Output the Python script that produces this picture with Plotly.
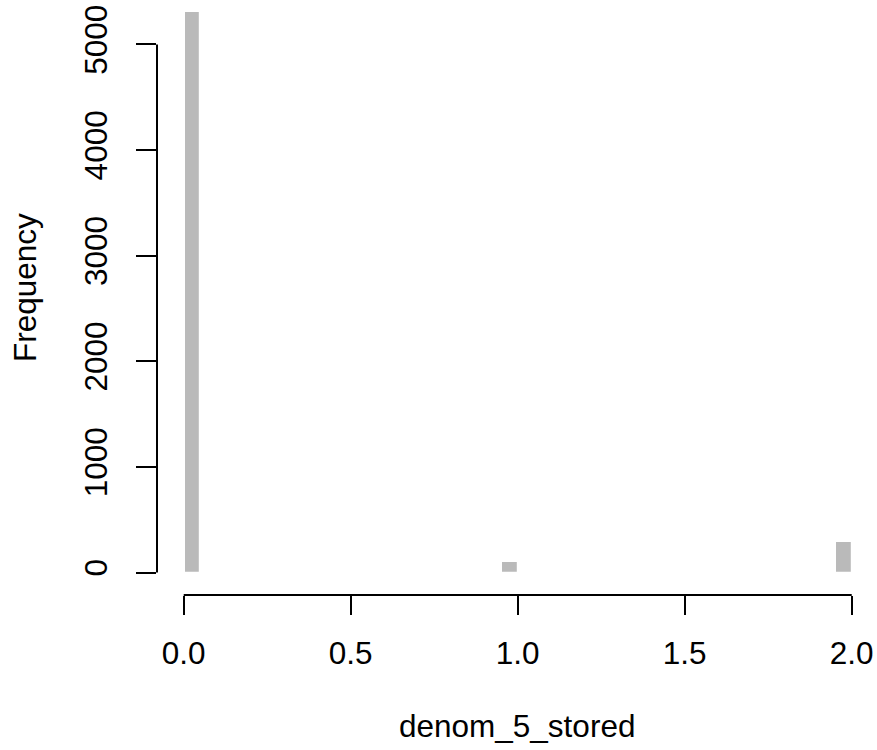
import plotly.graph_objects as go

# Histogram of denom_5_stored (bin width 0.05, only non-empty bins)
bin_left = [0.00, 0.95, 1.95]
bin_width = 0.05
counts = [5317, 107, 294]

x_ticks = [0, 0.5, 1.0, 1.5, 2.0]
x_ticktext = ["0.0", "0.5", "1.0", "1.5", "2.0"]
y_ticks = [0, 1000, 2000, 3000, 4000, 5000]
y_ticktext = ["0", "1000", "2000", "3000", "4000", "5000"]

FONT = "Liberation Sans, Arial, sans-serif"
FS = 31.5

centers = [b + bin_width / 2 for b in bin_left]

fig = go.Figure()
fig.add_trace(go.Bar(
    x=centers, y=counts, width=[bin_width] * len(counts),
    marker=dict(color="#BABABA", line=dict(color="white", width=2.2)),
    hoverinfo="x+y",
))

fig.update_layout(
    width=877, height=750,
    margin=dict(l=157, r=0, t=0, b=155, pad=0),
    paper_bgcolor="white", plot_bgcolor="white",
    showlegend=False,
    font=dict(family=FONT, size=FS, color="black"),
    bargap=0,
)
fig.update_xaxes(
    range=[-0.08, -0.08 + 720 / 334], showgrid=False, zeroline=False, showline=False,
    tickmode="array", tickvals=x_ticks, ticktext=x_ticktext,
    ticks="outside", ticklen=19, tickwidth=2, tickcolor="black",
    tickfont=dict(family=FONT, size=FS, color="black"),
    ticklabelstandoff=11,
)
fig.update_yaxes(
    range=[-213, 5421], showgrid=False, zeroline=False, showline=False,
    tickmode="array", tickvals=y_ticks, ticktext=y_ticktext,
    ticks="outside", ticklen=20, tickwidth=2, tickcolor="black",
    tickangle=-90,
    tickfont=dict(family=FONT, size=FS, color="black"),
    ticklabelstandoff=16,
)

# R-style axis lines spanning only the tick range
fig.add_shape(type="line", xref="x", yref="paper", x0=x_ticks[0], x1=x_ticks[-1], y0=0, y1=0,
              line=dict(color="black", width=2))
fig.add_shape(type="line", xref="paper", yref="y", x0=0, x1=0, y0=y_ticks[0], y1=y_ticks[-1],
              line=dict(color="black", width=2))

fig.add_annotation(text="denom_5_stored", xref="paper", yref="paper",
                   x=(517 - 157) / 720, y=(595 - 726) / 595, xanchor="center", yanchor="middle",
                   showarrow=False, font=dict(family=FONT, size=FS, color="black"))
fig.add_annotation(text="Frequency", xref="paper", yref="paper",
                   x=(25 - 157) / 720, y=(595 - 288) / 595, xanchor="center", yanchor="middle",
                   textangle=-90, showarrow=False, font=dict(family=FONT, size=FS, color="black"))

fig.write_html("out.html")
